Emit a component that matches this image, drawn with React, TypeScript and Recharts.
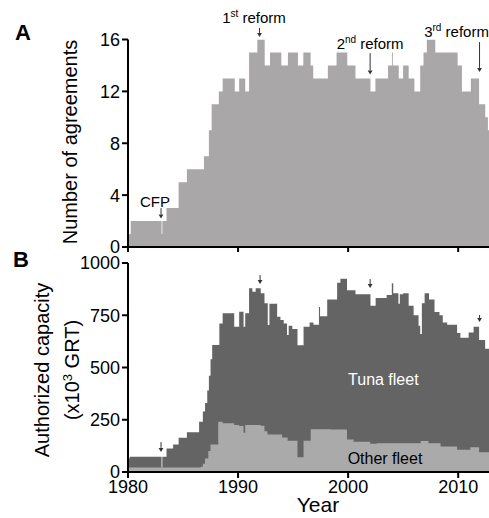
import React from 'react';
import { AreaChart, Area, XAxis, YAxis, ReferenceLine, ReferenceDot } from 'recharts';

// ---------- Panel A: number of agreements (step changes) ----------
const agreementYears = [1980, 1980.25, 1983.05, 1983.12, 1983.5, 1984.6, 1985.35, 1986.9, 1987.35, 1987.6, 1988.25, 1988.6, 1989.7, 1990.1, 1990.65, 1991.0, 1991.75, 1992.42, 1992.9, 1993.93, 1994.53, 1995.44, 1995.93, 1996.59, 1996.83, 1998.16, 1998.95, 1999.92, 2000.67, 2002.03, 2002.48, 2003.63, 2003.98, 2004.06, 2004.6, 2005.0, 2005.5, 2006.02, 2006.55, 2006.85, 2007.15, 2007.92, 2009.95, 2010.34, 2011.15, 2011.9, 2012.46, 2012.7, 2012.8];
const agreementCounts = [1, 2, 1, 2, 3, 5, 6, 7, 9, 11, 12, 13, 12, 13, 12, 15, 16, 14, 15, 14, 15, 14, 15, 14, 13, 14, 15, 14, 13, 12, 13, 14, 15, 14, 13, 14, 13, 12, 14, 15, 16, 15, 14, 12, 13, 11, 10, 9, 9];

// ---------- Panel B: authorized capacity (x10^3 GRT) ----------
const totalYears = [1980, 1980.15, 1983.05, 1983.12, 1983.5, 1984.1, 1984.6, 1985.35, 1986.46, 1986.8, 1987.0, 1987.2, 1987.35, 1987.5, 1987.65, 1988.3, 1988.6, 1989.65, 1990.1, 1990.5, 1990.65, 1991.0, 1991.3, 1991.6, 1992.06, 1992.4, 1992.7, 1992.85, 1993.55, 1993.85, 1994.15, 1994.45, 1994.6, 1994.93, 1995.4, 1995.95, 1996.5, 1996.85, 1997.35, 1997.45, 1998.1, 1999.0, 1999.3, 1999.9, 2000.67, 2002.03, 2002.5, 2003.5, 2003.97, 2004.1, 2004.57, 2004.7, 2005.0, 2005.5, 2005.95, 2006.4, 2006.55, 2006.7, 2006.95, 2007.35, 2007.85, 2008.3, 2008.6, 2009.0, 2009.9, 2010.2, 2010.95, 2011.4, 2011.9, 2012.45, 2012.8];
const totalCapacity = [65, 73, 22, 73, 113, 132, 164, 190, 241, 290, 330, 390, 460, 540, 608, 711, 759, 695, 767, 695, 759, 879, 863, 879, 855, 807, 703, 805, 743, 727, 711, 655, 700, 684, 606, 695, 715, 705, 790, 745, 825, 905, 925, 870, 850, 795, 832, 847, 903, 855, 805, 850, 855, 795, 750, 700, 660, 807, 855, 825, 765, 750, 715, 705, 665, 642, 668, 695, 632, 590, 590];

const otherYears = [1980, 1986.6, 1986.8, 1987.0, 1987.3, 1987.5, 1988.2, 1988.6, 1989.65, 1990.1, 1990.5, 1990.65, 1992.06, 1992.4, 1992.67, 1994.0, 1994.5, 1995.4, 1995.95, 1996.6, 1998.4, 1999.9, 2000.5, 2002.0, 2002.6, 2006.6, 2007.3, 2008.4, 2009.9, 2011.1, 2011.9, 2012.8];
const otherCapacity = [22, 25, 40, 65, 100, 132, 241, 233, 225, 220, 188, 225, 221, 195, 180, 165, 150, 70, 150, 205, 203, 155, 145, 135, 137, 148, 138, 122, 106, 118, 95, 95];

const yearTicks = [1980, 1990, 2000, 2010];
const agreementTicks = [0, 4, 8, 12, 16];
const capacityTicks = [0, 250, 500, 750, 1000];
const X_DOMAIN: [number, number] = [1980, 2012.8];

const FONT = '"Liberation Sans", Arial, sans-serif';

const stepValue = (ys: number[], vs: number[], t: number) => {
  let v = vs[0];
  for (let i = 0; i < ys.length; i++) if (ys[i] <= t + 1e-9) v = vs[i];
  return v;
};

const agreementData = agreementYears.map((y, i) => ({ year: y, count: agreementCounts[i] }));
const capTimes = Array.from(new Set([...totalYears, ...otherYears])).sort((a, b) => a - b);
const capacityData = capTimes.map((t) => ({
  year: t,
  total: stepValue(totalYears, totalCapacity, t),
  other: stepValue(otherYears, otherCapacity, t),
}));

const arrowShape = (head: number) => (p: any) => {
  const { x1, y1, x2, y2 } = p;
  return (
    <g>
      <line x1={x1} y1={y1} x2={x2} y2={y2 - head} stroke="#333" strokeWidth={1} />
      <path d={`M${x2 - head * 0.6},${y2 - head} L${x2 + head * 0.6},${y2 - head} L${x2},${y2} Z`} fill="#333" />
    </g>
  );
};

const reformShape = (num: string, sup: string) => (p: any) => (
  <text x={p.cx} y={p.cy} textAnchor="middle" fontSize={15} fontFamily={FONT} fill="#000" style={{ whiteSpace: 'pre' }}>
    <tspan>{num}</tspan>
    <tspan dy={-6} fontSize={10}>{sup}</tspan>
    <tspan dy={6}>{' reform'}</tspan>
  </text>
);

const plainText = (txt: string, size: number, color: string) => (p: any) => (
  <text x={p.cx} y={p.cy} textAnchor="middle" fontSize={size} fontFamily={FONT} fill={color}>
    {txt}
  </text>
);

const axisStyle = { stroke: '#000', strokeWidth: 2 };
const tickStyle = { fill: '#000', fontSize: 18, fontFamily: FONT };

export default function App() {
  return (
    <div style={{ position: 'absolute', left: 0, top: 0, width: 489, height: 518, background: '#fff', overflow: 'hidden' }}>
      <div style={{ position: 'absolute', left: 0, top: 0 }}>
        <AreaChart width={489} height={256} data={agreementData} margin={{ top: 39.5, right: 0, bottom: 0, left: 0 }}>
          <XAxis
            type="number"
            dataKey="year"
            domain={X_DOMAIN}
            ticks={yearTicks}
            allowDataOverflow
            height={9}
            axisLine={axisStyle}
            tickLine={axisStyle}
            tickSize={5}
            tickFormatter={() => ''}
            interval={0}
          />
          <YAxis
            domain={[0, 16]}
            ticks={agreementTicks}
            width={128}
            axisLine={axisStyle}
            tickLine={axisStyle}
            tickSize={6}
            tickMargin={2}
            tick={tickStyle}
            interval={0}
            allowDataOverflow
          />
          <Area type="stepAfter" dataKey="count" stroke="none" fill="#a9a7a8" fillOpacity={1} isAnimationActive={false} dot={false} activeDot={false} />
          <ReferenceDot x={1982.45} y={3.1} ifOverflow="visible" shape={plainText('CFP', 15, '#000')} />
          <ReferenceLine segment={[{ x: 1983.0, y: 3.0 }, { x: 1983.0, y: 2.2 }]} ifOverflow="visible" shape={arrowShape(4)} />
          <ReferenceDot x={1991.45} y={17.27} ifOverflow="visible" shape={reformShape('1', 'st')} />
          <ReferenceLine segment={[{ x: 1991.95, y: 16.9 }, { x: 1991.95, y: 16.2 }]} ifOverflow="visible" shape={arrowShape(4)} />
          <ReferenceDot x={2002.0} y={15.27} ifOverflow="visible" shape={reformShape('2', 'nd')} />
          <ReferenceLine segment={[{ x: 2002.0, y: 14.95 }, { x: 2002.0, y: 13.3 }]} ifOverflow="visible" shape={arrowShape(4)} />
          <ReferenceDot x={2009.85} y={16.2} ifOverflow="visible" shape={reformShape('3', 'rd')} />
          <ReferenceLine segment={[{ x: 2011.94, y: 15.8 }, { x: 2011.94, y: 13.5 }]} ifOverflow="visible" shape={arrowShape(4)} />
        </AreaChart>
      </div>
      <div style={{ position: 'absolute', left: 0, top: 246 }}>
        <AreaChart width={489} height={272} data={capacityData} margin={{ top: 17, right: 0, bottom: 0, left: 0 }}>
          <XAxis
            type="number"
            dataKey="year"
            domain={X_DOMAIN}
            ticks={yearTicks}
            allowDataOverflow
            height={46}
            axisLine={axisStyle}
            tickLine={axisStyle}
            tickSize={6}
            tickMargin={2}
            tick={tickStyle}
            interval={0}
          />
          <YAxis
            domain={[0, 1000]}
            ticks={capacityTicks}
            width={128}
            axisLine={axisStyle}
            tickLine={axisStyle}
            tickSize={6}
            tickMargin={2}
            tick={tickStyle}
            interval={0}
          />
          <Area type="stepAfter" dataKey="total" stroke="none" fill="#646464" fillOpacity={1} isAnimationActive={false} dot={false} activeDot={false} />
          <Area type="stepAfter" dataKey="other" stroke="none" fill="#aaaaaa" fillOpacity={1} isAnimationActive={false} dot={false} activeDot={false} />
          <ReferenceDot x={2003.2} y={416} ifOverflow="visible" shape={plainText('Tuna fleet', 16, '#fff')} />
          <ReferenceDot x={2003.35} y={38} ifOverflow="visible" shape={plainText('Other fleet', 16, '#000')} />
          <ReferenceLine segment={[{ x: 1983.0, y: 143 }, { x: 1983.0, y: 96 }]} ifOverflow="visible" shape={arrowShape(4)} />
          <ReferenceLine segment={[{ x: 1992.0, y: 942 }, { x: 1992.0, y: 899 }]} ifOverflow="visible" shape={arrowShape(4)} />
          <ReferenceLine segment={[{ x: 2002.0, y: 923 }, { x: 2002.0, y: 880 }]} ifOverflow="visible" shape={arrowShape(4)} />
          <ReferenceLine segment={[{ x: 2011.94, y: 751 }, { x: 2011.94, y: 718 }]} ifOverflow="visible" shape={arrowShape(4)} />
        </AreaChart>
      </div>
      <svg width={489} height={518} style={{ position: 'absolute', left: 0, top: 0, pointerEvents: 'none' }}>
        <text x={15} y={40} fontSize={22} fontWeight="bold" fontFamily={FONT} fill="#000">A</text>
        <text x={13} y={267} fontSize={22} fontWeight="bold" fontFamily={FONT} fill="#000">B</text>
        <text transform="translate(77,142) rotate(-90)" textAnchor="middle" fontSize={20} fontFamily={FONT} fill="#000">
          Number of agreements
        </text>
        <text transform="translate(49,370) rotate(-90)" textAnchor="middle" fontSize={20} fontFamily={FONT} fill="#000">
          Authorized capacity
        </text>
        <text transform="translate(79,370) rotate(-90)" textAnchor="middle" fontSize={20} fontFamily={FONT} fill="#000">
          <tspan>(x10</tspan>
          <tspan dy={-7} fontSize={13}>3</tspan>
          <tspan dy={7}>{' GRT)'}</tspan>
        </text>
        <text x={318} y={512} textAnchor="middle" fontSize={21} fontFamily={FONT} fill="#000">Year</text>
      </svg>
    </div>
  );
}
